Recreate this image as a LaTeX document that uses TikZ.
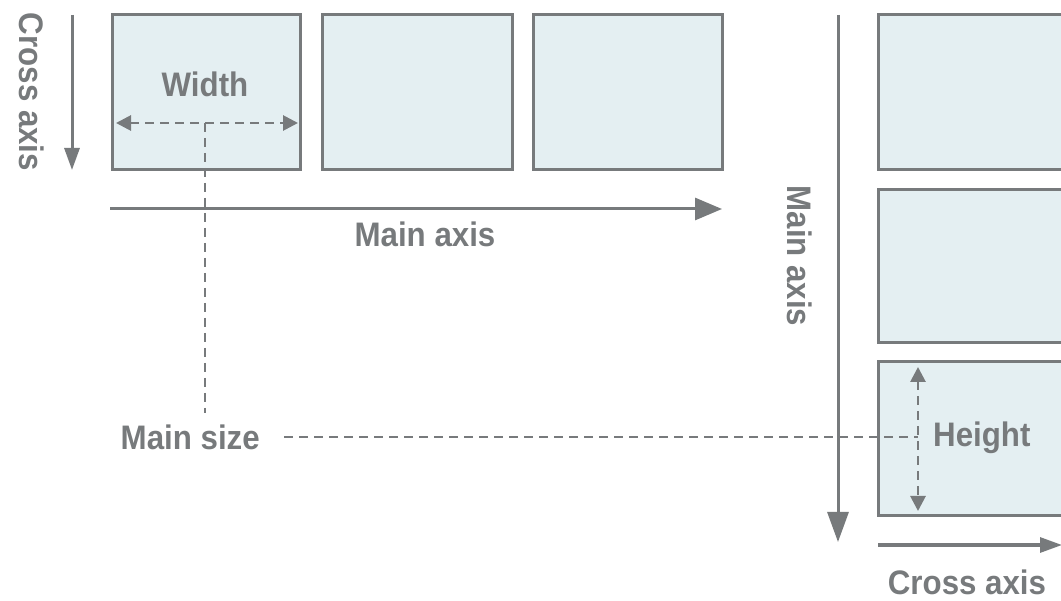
\documentclass[tikz,border=0pt]{standalone}
\usepackage{fontspec}
\setmainfont[FakeStretch=0.92]{Liberation Sans}
\usetikzlibrary{arrows.meta}
\definecolor{ln}{HTML}{777A7C}
\definecolor{bx}{HTML}{E4EFF2}
\tikzset{
  item/.style={draw=ln, line width=3pt, fill=bx, inner sep=0pt},
  axis/.style={draw=ln, line width=3pt, -{Triangle[length=27pt,width=22pt]}},
  dim/.style={draw=ln, line width=2.8pt, dash pattern=on 9pt off 6pt},
  dimarr/.style={dim, {Triangle[length=15pt,width=15pt]}-{Triangle[length=15pt,width=15pt]}},
  lbl/.style={text=ln, font=\fontsize{34}{34}\selectfont\bfseries, inner sep=0pt},
}
\begin{document}
\begin{tikzpicture}[x=1pt,y=-1pt]
\clip (0,0) rectangle (1061,601);
\fill[white] (0,0) rectangle (1061,601);
% left boxes
\node[item, minimum width=188pt, minimum height=155pt] (b1) at (206,92.5) {};
\node[item, minimum width=190pt, minimum height=155pt] (b2) at (417,92.5) {};
\node[item, minimum width=189pt, minimum height=155pt] (b3) at (627.5,92.5) {};
% right boxes
\node[item, minimum width=200pt, minimum height=155pt] (r1) at (978,92.5) {};
\node[item, minimum width=200pt, minimum height=153pt] (r2) at (978,266.5) {};
\node[item, minimum width=200pt, minimum height=154pt] (r3) at (978,439) {};
% left axes
\coordinate (ma1) at (110,209);
\coordinate (ma2) at (722,209);
\draw[axis] (ma1) -- (ma2);
\node[lbl, anchor=base] (mal) at (425,247) {Main axis};
\coordinate (ca1) at (72,15);
\coordinate (ca2) at (72,170);
\draw[axis, -{Triangle[length=22pt,width=15pt]}] (ca1) -- (ca2);
\node[lbl, rotate=-90] (cal) at (32,92) {Cross axis};
% width
\node[lbl, anchor=base] (wl) at (205,97) {Width};
\coordinate (w1) at (116,123);
\coordinate (w2) at (298,123);
\coordinate (wm) at (205,123);
\draw[dimarr] (w1) -- (w2);
\node[lbl, anchor=base east] (ms) at (260,450) {Main size};
\coordinate (msv) at (205,413);
\draw[dim] (wm) -- (msv);
% right axes
\coordinate (rm1) at (838,15);
\coordinate (rm2) at (838,542);
\draw[axis, -{Triangle[length=30pt,width=21pt]}] (rm1) -- (rm2);
\node[lbl, rotate=-90] (rml) at (800,256) {Main axis};
\coordinate (rc1) at (878,545);
\coordinate (rc2) at (1062,545);
\draw[axis, -{Triangle[length=22pt,width=15pt]}] (rc1) -- (rc2);
\node[lbl, anchor=base] (rcl) at (967,594) {Cross axis};
% height
\coordinate (h1) at (918,367);
\coordinate (h2) at (918,511);
\coordinate (hm) at (918,437);
\draw[dimarr] (h1) -- (h2);
\node[lbl, anchor=base west] (hl) at (933,447) {Height};
\coordinate (ms2) at (284,437);
\draw[dim] (ms2) -- (hm);
\end{tikzpicture}
\end{document}
